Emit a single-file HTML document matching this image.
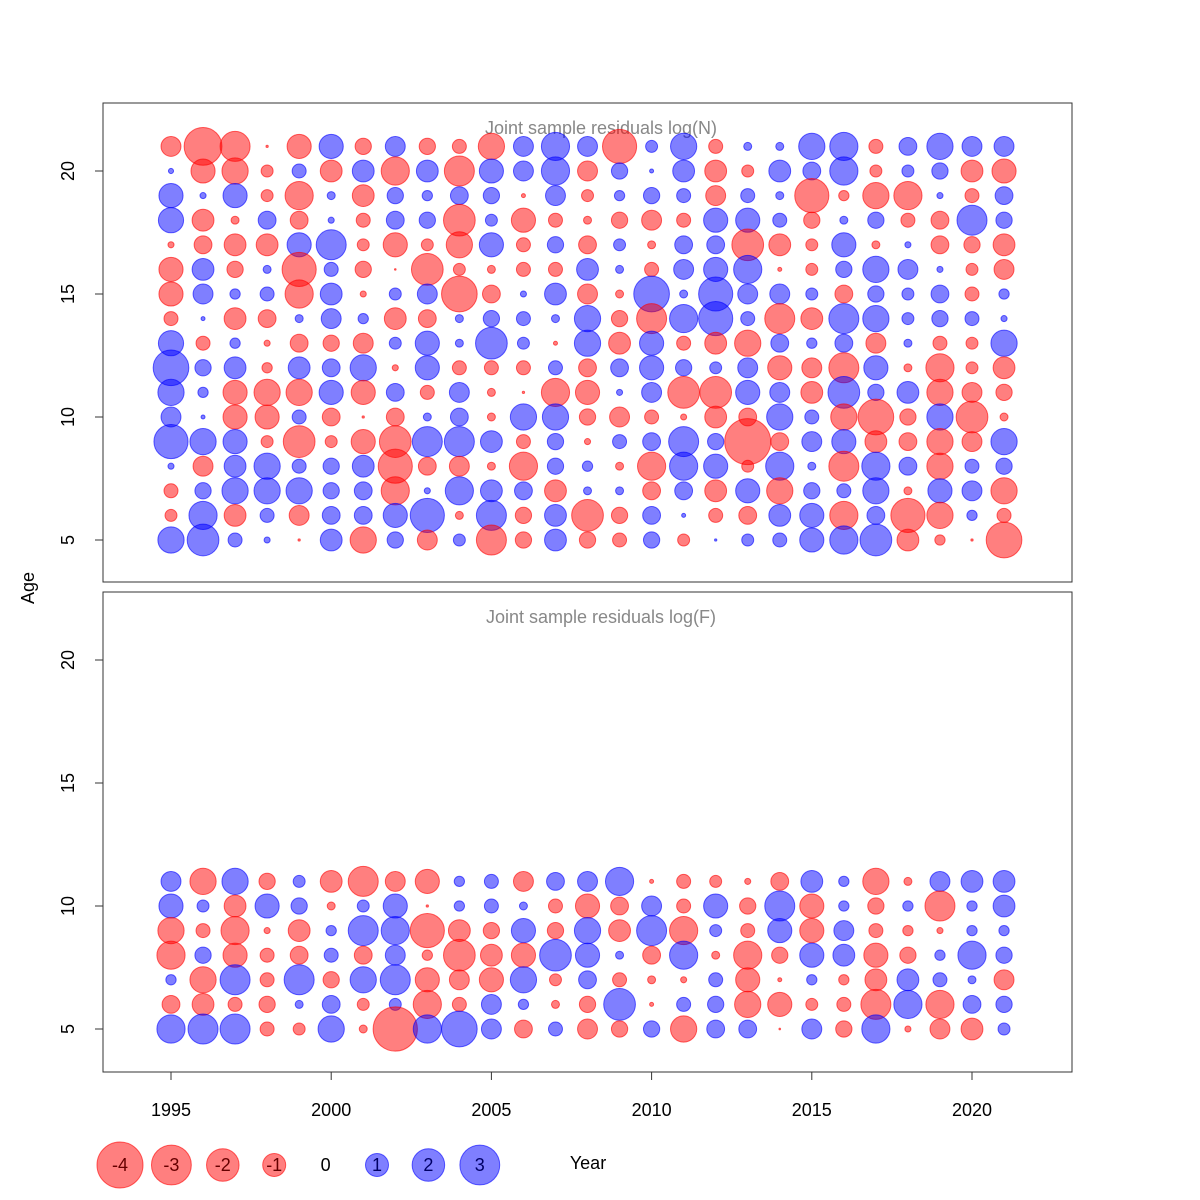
<!DOCTYPE html>
<html><head><meta charset="utf-8"><style>
body{margin:0;background:#fff}
svg{display:block;font-family:"Liberation Sans",sans-serif}
</style></head><body>
<svg id="chart" width="1200" height="1200" viewBox="0 0 1200 1200">
<rect width="1200" height="1200" fill="#fff"/>
<rect x="103" y="103" width="969" height="479" fill="none" stroke="#333" stroke-width="1"/>
<rect x="103" y="592" width="969" height="480" fill="none" stroke="#333" stroke-width="1"/>
<text x="601" y="134" font-size="18" fill="#888" text-anchor="middle">Joint sample residuals log(N)</text>
<text x="601" y="623" font-size="18" fill="#888" text-anchor="middle">Joint sample residuals log(F)</text>
<text transform="translate(34,588) rotate(-90)" font-size="18" text-anchor="middle">Age</text>
<text x="588" y="1169" font-size="18" text-anchor="middle">Year</text>
<g id="axes"></g>
<g id="marks"></g>
<g id="legend"></g>
</svg>
<script>
const years = [1995,1996,1997,1998,1999,2000,2001,2002,2003,2004,2005,2006,2007,2008,2009,2010,2011,2012,2013,2014,2015,2016,2017,2018,2019,2020,2021];
const agesN = [21,20,19,18,17,16,15,14,13,12,11,10,9,8,7,6,5];
const agesF = [11,10,9,8,7,6,5];
const xTicks = [1995,2000,2005,2010,2015,2020];
const yTicks = [5,10,15,20];
const legendValues = [-4,-3,-2,-1,0,1,2,3];
const resN = [
[-0.75,0.05,1.1,1.2,-0.07,-1.1,-1.1,-0.37,1.2,2.4,1.3,0.75,2.2,0.07,-0.37,-0.27,1.3],
[-2.7,-1.1,0.07,-0.9,-0.6,0.9,0.75,0.03,-0.37,0.5,0.2,0.03,1.3,-0.75,0.5,1.5,1.9],
[-1.7,-1.3,1.1,-0.12,-0.9,-0.5,0.2,-0.9,0.2,0.9,-1.1,-1.1,1.1,0.9,1.3,-0.9,0.37],
[-0.01,-0.27,-0.27,0.6,-0.9,0.12,0.37,-0.6,-0.07,-0.2,-1.3,-1.1,-0.27,1.3,1.3,0.37,0.07],
[-1.1,0.37,-1.5,-0.6,1.1,-2.2,-1.5,0.12,-0.6,0.9,-1.3,0.37,-1.9,0.37,1.3,-0.75,-0.01],
[1.1,-0.9,0.12,0.07,1.7,0.37,0.9,0.75,-0.5,0.6,1.1,-0.6,-0.27,0.5,0.5,0.6,0.9],
[-0.5,0.9,-0.9,-0.37,-0.27,-0.5,-0.07,0.2,-0.75,1.3,-1.1,-0.01,-1.1,0.9,0.6,0.6,-1.3],
[0.75,-1.5,0.5,0.6,-1.1,-0.005,0.27,-0.9,0.27,-0.07,0.6,-0.6,-1.9,-2.2,-1.5,1.1,0.5],
[-0.5,0.9,0.2,0.5,-0.27,-1.9,0.75,-0.6,1.1,1.1,-0.37,0.12,1.7,-0.6,0.07,2.2,-0.75],
[-0.37,-1.7,0.6,-1.9,-1.3,-0.27,-2.4,0.12,0.12,-0.37,0.75,0.6,1.7,-0.75,1.5,-0.12,0.27],
[-1.3,1.1,0.5,0.27,1.1,-0.12,-0.6,0.5,1.9,-0.37,-0.12,-0.12,0.9,-0.12,0.9,1.7,-1.7],
[0.75,0.75,-0.03,-1.1,-0.37,-0.37,0.07,0.37,0.27,-0.37,-0.01,1.3,-0.37,-1.5,0.6,-0.5,-0.5],
[1.5,1.5,0.75,-0.37,0.5,-0.37,0.9,0.12,-0.03,0.37,-1.5,1.3,0.5,0.5,-0.9,0.9,0.9],
[0.75,-0.75,-0.27,-0.12,-0.6,0.9,-0.75,1.3,1.3,-0.6,-1.1,-0.5,-0.07,0.2,0.12,-1.9,-0.5],
[-2.2,0.5,0.2,-0.5,0.27,0.12,-0.12,-0.5,-0.9,0.6,0.07,-0.75,0.37,-0.12,0.12,-0.5,-0.37],
[0.27,0.03,0.5,-0.75,-0.12,-0.37,2.4,-1.7,1.1,1.1,0.75,-0.37,0.6,-1.5,-0.6,0.6,0.5],
[1.3,0.9,0.37,-0.37,0.6,0.75,0.12,1.5,-0.37,0.5,-1.9,-0.07,1.7,1.5,0.6,0.03,-0.27],
[-0.37,-0.9,-0.75,1.1,0.6,1.1,2.2,2.2,-0.9,0.27,-1.9,-0.9,0.5,1.1,-0.9,-0.37,0.01],
[0.12,-0.27,0.37,1.1,-1.9,1.5,0.75,0.37,-1.3,0.75,1.1,-0.6,-4,-0.27,1.1,-0.6,0.27],
[0.12,0.9,0.12,0.37,-0.9,-0.03,0.75,-1.7,0.6,-1.1,0.75,1.3,-0.6,1.5,-1.3,0.9,0.37],
[1.3,0.6,-2.2,-0.5,-0.27,-0.27,0.27,-0.9,0.2,-0.75,-0.9,0.37,0.75,0.12,0.5,1.1,1.1],
[1.5,1.5,-0.2,0.12,1.1,0.5,-0.6,1.7,0.6,-1.7,1.9,-1.3,1.1,-1.7,0.37,-1.5,1.5],
[-0.37,-0.27,-1.3,0.5,-0.12,1.3,0.5,1.3,-0.75,1.1,0.5,-2.4,-0.9,1.5,1.3,0.6,1.9],
[0.6,0.27,-1.5,-0.37,0.07,0.75,0.27,0.27,0.12,-0.12,0.9,-0.5,-0.6,0.6,-0.12,-2.2,-0.9],
[1.3,0.5,0.07,-0.6,-0.6,0.07,0.6,0.5,-0.37,-1.5,-1.3,1.3,-1.3,-1.3,1.1,-1.3,-0.2],
[0.75,-0.9,-0.37,1.7,-0.5,-0.27,-0.37,0.37,-0.27,-0.27,-0.75,-1.9,-0.75,0.37,0.75,0.2,-0.01],
[0.75,-1.1,0.6,0.5,-0.9,-0.75,0.2,0.07,1.3,-0.9,-0.5,-0.12,1.3,0.5,-1.3,-0.37,-2.4]
];
const resF = [
[0.75,1.1,-1.3,-1.5,0.2,-0.6,1.5],
[-1.3,0.27,-0.37,0.5,-1.3,-0.9,1.7],
[1.3,-0.9,-1.5,-1.1,1.7,-0.37,1.7],
[-0.5,1.1,-0.07,-0.37,-0.37,-0.5,-0.37],
[0.27,0.5,-0.9,-0.6,1.7,0.12,-0.27],
[-0.9,-0.12,0.2,0.37,-0.5,0.6,1.3],
[-1.7,0.27,1.7,-0.6,1.3,-0.27,-0.12],
[-0.75,1.1,1.5,0.75,1.7,0.27,-3.7],
[-1.1,-0.01,-2.2,-0.2,-1.1,-1.5,1.5],
[0.2,0.2,-0.9,-1.9,-0.75,-0.37,2.4],
[0.37,0.37,-0.5,-0.9,-1.1,0.75,0.75],
[-0.75,0.12,1.1,-1.1,1.3,0.2,-0.6],
[0.6,-0.37,-0.5,1.9,-0.27,-0.12,0.37],
[0.75,-1.1,1.3,1.1,0.6,-0.5,-0.75],
[1.5,-0.6,-0.9,0.12,-0.37,1.9,-0.5],
[-0.03,0.75,1.7,-0.6,-0.12,-0.03,0.5],
[-0.37,-0.37,-1.5,1.5,-0.07,0.37,-1.3],
[-0.27,1.1,0.27,-0.12,0.37,0.5,0.6],
[-0.07,-0.5,-0.37,-1.5,-1.1,-1.3,0.6],
[-0.6,1.7,1.1,-0.5,-0.03,-1.1,-0.005],
[0.9,-1.1,-1.1,1.1,0.2,-0.27,0.75],
[0.2,0.2,0.75,0.9,-0.2,-0.37,-0.5],
[-1.3,-0.5,-0.37,-1.1,-0.9,-1.7,1.5],
[-0.12,0.2,-0.2,-0.5,0.9,1.5,-0.07],
[0.75,-1.7,-0.07,0.2,0.37,-1.5,-0.75],
[0.9,0.2,0.2,1.5,0.12,0.6,-0.9],
[0.9,0.9,0.2,0.5,-0.75,0.5,0.27]
];
const NS='http://www.w3.org/2000/svg';
const xScale = y => 171 + (y-1995)*(972-171)/25;
const yTop = a => 540 - (a-5)*(540-171)/15;
const yBot = a => 1029 - (a-5)*(1029-660)/15;
const rScale = v => 11.5*Math.sqrt(Math.abs(v));
const fillOf = v => v<0 ? 'rgba(255,0,0,0.5)' : 'rgba(0,0,255,0.5)';
const strokeOf = v => v<0 ? 'rgba(255,0,0,0.6)' : 'rgba(0,0,255,0.6)';
function mk(tag, attrs, parent){const e=document.createElementNS(NS,tag);for(const k in attrs)e.setAttribute(k,attrs[k]);parent.appendChild(e);return e;}
const axes=document.getElementById('axes'), marks=document.getElementById('marks'), legend=document.getElementById('legend');
xTicks.forEach(t=>{
  const l=mk('line',{x1:xScale(t),x2:xScale(t),y1:1072,y2:1080,stroke:'#333'},axes);
  
  
  const tx=mk('text',{x:xScale(t),y:1116,'font-size':18,'text-anchor':'middle'},axes);
  tx.textContent=t;
  
  
});
[yTop,yBot].forEach((ys,pi)=>{
  yTicks.forEach(t=>{
    const l=mk('line',{x1:95,x2:103,y1:ys(t),y2:ys(t),stroke:'#333'},axes);
    
    
    const tx=mk('text',{transform:`translate(74,${ys(t)}) rotate(-90)`,'font-size':18,'text-anchor':'middle'},axes);
    tx.textContent=t;
    
    
  });
});
function drawPanel(res, ages, ys, name){
  years.forEach((yr,i)=>{
    ages.forEach((a,j)=>{
      const v=res[i][j];
      const c=mk('circle',{cx:xScale(yr),cy:ys(a),r:rScale(v),fill:fillOf(v),stroke:strokeOf(v),'stroke-width':1},marks);
      
      
    });
  });
}
drawPanel(resN, agesN, yTop, 'logN');
drawPanel(resF, agesF, yBot, 'logF');
legendValues.forEach((v,i)=>{
  const cx=120+i*51.4, cy=1165;
  if(v!==0){
    const c=mk('circle',{cx:cx,cy:cy,r:rScale(v),fill:fillOf(v),stroke:strokeOf(v)},legend);
    
    
  }
  const t=mk('text',{x:cx,y:cy+6,'font-size':18,'text-anchor':'middle',fill:v<0?'#600':(v>0?'#006':'#000')},legend);
  t.textContent=v;
  
  
});
</script>
</body></html>
